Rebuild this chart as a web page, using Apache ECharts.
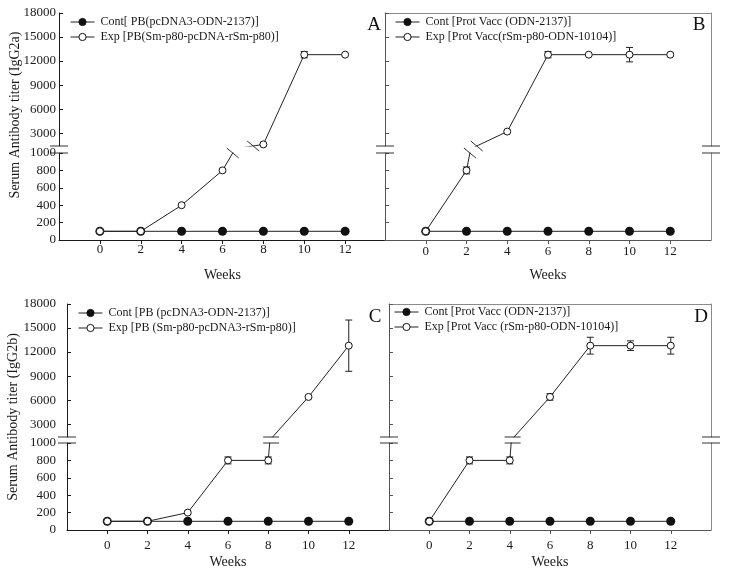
<!DOCTYPE html>
<html><head><meta charset="utf-8">
<script src="https://cdn.jsdelivr.net/npm/echarts@6/dist/echarts.min.js"></script>
<style>html,body{margin:0;padding:0;background:#fff}#c{width:729px;height:575px}</style>
</head><body><div id="c"></div>
<script>
// ---------- data ----------
const weeks = [0, 2, 4, 6, 8, 10, 12];
const xTicks = [0, 2, 4, 6, 8, 10, 12];
const lowTicks = [0, 200, 400, 600, 800, 1000];
const upTicks = [3000, 6000, 9000, 12000, 15000, 18000];
const letters = ['A', 'B', 'C', 'D'];
const yTitles = ['Serum Antibody titer (IgG2a)', '', 'Serum Antibody titer (IgG2b)', ''];
const contNames = ['Cont[ PB(pcDNA3-ODN-2137)]', 'Cont [Prot Vacc (ODN-2137)]', 'Cont [PB (pcDNA3-ODN-2137)]', 'Cont [Prot Vacc (ODN-2137)]'];
const expNames = ['Exp [PB(Sm-p80-pcDNA-rSm-p80)]', 'Exp [Prot Vacc(rSm-p80-ODN-10104)]', 'Exp [PB (Sm-p80-pcDNA3-rSm-p80)]', 'Exp [Prot Vacc (rSm-p80-ODN-10104)]'];
const contA = [100, 100, 100, 100, 100, 100, 100];
const expA = [100, 100, 400, 800, 1600, 12800, 12800];
const errA = [0, 0, 0, 0, 0, 400, 0];
const contB = [100, 100, 100, 100, 100, 100, 100];
const expB = [100, 800, 3200, 12800, 12800, 12800, 12800];
const errB = [0, 40, 0, 400, 0, 900, 0];
const contC = [100, 100, 100, 100, 100, 100, 100];
const expC = [100, 100, 200, 800, 800, 6400, 12800];
const errC = [0, 0, 0, 40, 40, 0, 3200];
const contD = [100, 100, 100, 100, 100, 100, 100];
const expD = [100, 800, 800, 6400, 12800, 12800, 12800];
const errD = [0, 40, 40, 400, 1050, 600, 1050];
const lowMax = 1000, upMin = 1400, upMax = 18000, xMin = -2, xMax = 14;

const conts = [contA, contB, contC, contD];
const exps = [expA, expB, expC, expD];
const errs = [errA, errB, errC, errD];

// ---------- layout ----------
const FONT = 'Liberation Serif';
const layout = [
  {left: 59, width: 327, top: 13, upH: 133, lowTop: 153, lowH: 87, labels: true, box: false, xM: 3, yM: 3, gap: 28, brk: 'slash', legL: 70, legT: 16, title: [15, 115], letter: [374, 25]},
  {left: 385, width: 326, top: 13, upH: 133, lowTop: 153, lowH: 87, labels: false, box: true, xM: 5, yM: 3, gap: 28, brk: 'slash', legL: 395, legT: 16, letter: [699, 25]},
  {left: 67, width: 322, top: 304, upH: 133, lowTop: 443, lowH: 87, labels: true, box: false, xM: 9, yM: 11, gap: 25, brk: 'flat', legL: 78, legT: 307, title: [13, 417], letter: [375, 317]},
  {left: 389, width: 322, top: 304, upH: 133, lowTop: 443, lowH: 87, labels: false, box: true, xM: 9, yM: 3, gap: 25, brk: 'flat', legL: 394, legT: 306, letter: [701, 317]}
];

const chart = echarts.init(document.getElementById('c'));
const grids = [], xAxes = [], yAxes = [], series = [], legends = [], texts = [], idx = [];
const lab = {fontFamily: FONT, fontSize: 13, color: '#1a1a1a', formatter: v => String(v)};

function errRender(params, api) {
  const x = api.value(0), y = api.value(1), e = api.value(2);
  const t = api.coord([x, y + e]), b = api.coord([x, y - e]);
  const hw = 3.5, st = {stroke: '#222', lineWidth: 1};
  return {type: 'group', children: [
    {type: 'line', shape: {x1: t[0], y1: t[1], x2: b[0], y2: b[1]}, style: st},
    {type: 'line', shape: {x1: t[0] - hw, y1: t[1], x2: t[0] + hw, y2: t[1]}, style: st},
    {type: 'line', shape: {x1: b[0] - hw, y1: b[1], x2: b[0] + hw, y2: b[1]}, style: st}
  ]};
}

layout.forEach((L, p) => {
  const axisC = L.box ? '#555' : '#1a1a1a';
  const boxC = '#8a8a8a';
  const up = grids.length; grids.push({left: L.left, top: L.top, width: L.width, height: L.upH});
  const lo = grids.length; grids.push({left: L.left, top: L.lowTop, width: L.width, height: L.lowH});
  const ux = xAxes.length;
  xAxes.push({gridIndex: up, type: 'value', min: xMin, max: xMax, position: 'top', show: L.box,
    axisLine: {show: true, onZero: false, lineStyle: {color: boxC}}, axisTick: {show: false}, axisLabel: {show: false}, splitLine: {show: false}});
  const lx = xAxes.length;
  xAxes.push({gridIndex: lo, type: 'value', min: xMin, max: xMax, position: 'bottom',
    name: 'Weeks', nameLocation: 'middle', nameGap: L.gap, nameTextStyle: {fontFamily: FONT, fontSize: 14, color: '#1a1a1a'},
    axisLine: {show: true, onZero: false, lineStyle: {color: axisC}},
    axisTick: {show: true, inside: false, length: 4, customValues: xTicks, lineStyle: {color: axisC}},
    axisLabel: Object.assign({customValues: xTicks, margin: L.xM}, lab), splitLine: {show: false}});
  const uy = yAxes.length;
  yAxes.push({gridIndex: up, type: 'value', min: upMin, max: upMax, position: 'left',
    axisLine: {show: true, onZero: false, lineStyle: {color: axisC}},
    axisTick: {show: true, inside: true, length: 4, customValues: upTicks, lineStyle: {color: axisC}},
    axisLabel: Object.assign({show: L.labels, customValues: upTicks, margin: L.yM}, lab), splitLine: {show: false}});
  const ly = yAxes.length;
  yAxes.push({gridIndex: lo, type: 'value', min: 0, max: lowMax, interval: 200, position: 'left',
    axisLine: {show: true, onZero: false, lineStyle: {color: axisC}},
    axisTick: {show: true, inside: true, length: 4, customValues: lowTicks, lineStyle: {color: axisC}},
    axisLabel: Object.assign({show: L.labels, customValues: lowTicks, margin: L.yM}, lab), splitLine: {show: false}});
  if (L.box) {
    [up, lo].forEach((gi, k) => yAxes.push({gridIndex: gi, type: 'value', position: 'right',
      min: k === 0 ? upMin : 0, max: k === 0 ? upMax : lowMax,
      axisLine: {show: true, onZero: false, lineStyle: {color: boxC}}, axisTick: {show: false}, axisLabel: {show: false}, splitLine: {show: false}}));
  }
  idx.push({ux, lx, uy, ly});

  const cont = conts[p], exp = exps[p], err = errs[p];
  const errUp = [], errLo = [];
  weeks.forEach((w, i) => { if (err[i] > 0) (exp[i] > lowMax ? errUp : errLo).push([w, exp[i], err[i]]); });
  series.push({type: 'custom', xAxisIndex: ux, yAxisIndex: uy, renderItem: errRender, data: errUp, z: 1, silent: true});
  series.push({type: 'custom', xAxisIndex: lx, yAxisIndex: ly, renderItem: errRender, data: errLo, z: 1, silent: true});
  const contStyle = {name: contNames[p], type: 'line', symbol: 'circle', symbolSize: 9, clip: true,
    itemStyle: {color: '#111', borderColor: '#111', borderWidth: 0}, lineStyle: {color: '#222', width: 1}, z: 2};
  const expStyle = {name: expNames[p], type: 'line', symbol: 'circle', symbolSize: 7, clip: true,
    itemStyle: {color: '#fff', borderColor: '#111', borderWidth: 1}, lineStyle: {color: '#222', width: 1}, z: 3};
  series.push(Object.assign({}, contStyle, {xAxisIndex: lx, yAxisIndex: ly, data: weeks.map((w, i) => [w, cont[i]])}));
  series.push(Object.assign({}, expStyle, {xAxisIndex: lx, yAxisIndex: ly, data: weeks.map((w, i) => [w, exp[i]])}));
  series.push(Object.assign({}, expStyle, {xAxisIndex: ux, yAxisIndex: uy, data: weeks.map((w, i) => [w, exp[i]])}));

  legends.push({data: [contNames[p], expNames[p]], orient: 'vertical', left: L.legL, top: L.legT, padding: 0,
    itemWidth: 24, itemHeight: 9, itemGap: 3, selectedMode: false,
    itemStyle: {borderWidth: 1}, lineStyle: {width: 1},
    textStyle: {fontFamily: FONT, fontSize: 12, color: '#1a1a1a', padding: [0, 0, 0, 1]}});
  if (L.title) texts.push({type: 'text', x: L.title[0], y: L.title[1], rotation: Math.PI / 2,
    style: {text: yTitles[p], font: '14px "' + FONT + '"', fill: '#1a1a1a', textAlign: 'center', textVerticalAlign: 'middle'}});
  texts.push({type: 'text', x: L.letter[0], y: L.letter[1],
    style: {text: letters[p], font: '19px "' + FONT + '"', fill: '#111', textAlign: 'center', textVerticalAlign: 'middle'}});
});

chart.setOption({animation: false, backgroundColor: '#fff', grid: grids, xAxis: xAxes, yAxis: yAxes,
  series: series, legend: legends, graphic: texts});

// ---------- break marks computed from the axes ----------
const marks = [];
const ln = (x1, y1, x2, y2, c) => ({type: 'line', z: 100, silent: true, shape: {x1, y1, x2, y2}, style: {stroke: c || '#333', lineWidth: 1}});
layout.forEach((L, p) => {
  const I = idx[p];
  const toUp = v => chart.convertToPixel({xAxisIndex: I.ux, yAxisIndex: I.uy}, v);
  const toLo = v => chart.convertToPixel({xAxisIndex: I.lx, yAxisIndex: I.ly}, v);
  const xs = [xMin]; if (L.box) xs.push(xMax);
  xs.forEach(xv => {
    const a = toUp([xv, upMin]), b = toLo([xv, lowMax]);
    marks.push(ln(a[0] - 9, a[1], a[0] + 9, a[1]));
    marks.push(ln(b[0] - 9, b[1], b[0] + 9, b[1]));
  });
  const exp = exps[p];
  for (let i = 0; i < exp.length - 1; i++) {
    if (exp[i] <= lowMax && exp[i + 1] > upMin) {
      const w0 = weeks[i], w1 = weeks[i + 1], v0 = exp[i], v1 = exp[i + 1];
      const t1 = (lowMax - v0) / (v1 - v0), t2 = (upMin - v0) / (v1 - v0);
      const p1 = toLo([w0 + t1 * (w1 - w0), lowMax]);
      const p2 = toUp([w0 + t2 * (w1 - w0), upMin]);
      if (L.brk === 'slash') {
        marks.push(ln(p1[0] - 6, p1[1] - 5, p1[0] + 6, p1[1] + 5));
        marks.push(ln(p2[0] - 6, p2[1] - 5, p2[0] + 6, p2[1] + 5));
      } else {
        const cx = (p1[0] + p2[0]) / 2;
        marks.push(ln(cx - 8, p1[1], cx + 8, p1[1]));
        marks.push(ln(cx - 8, p2[1], cx + 8, p2[1]));
      }
    }
  }
});
chart.setOption({graphic: texts.concat(marks)});
</script></body></html>
